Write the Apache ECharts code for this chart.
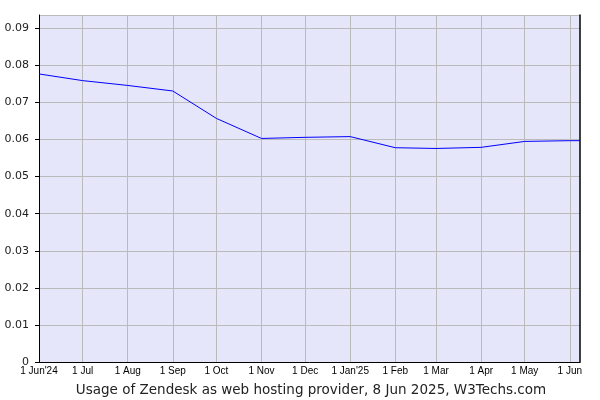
<!DOCTYPE html>
<html>
<head>
<meta charset="utf-8">
<script src="https://cdn.jsdelivr.net/npm/echarts@6/dist/echarts.min.js"></script>
<style>html,body{margin:0;padding:0;background:#fff}#c{width:600px;height:400px}</style>
</head>
<body>
<div id="c"></div>
<script>
const dates = ['2024-06-01','2024-07-01','2024-08-01','2024-09-01','2024-10-01','2024-11-01','2024-12-01','2025-01-01','2025-02-01','2025-03-01','2025-04-01','2025-05-01','2025-06-01','2025-06-08'];
const usage = [0.0777,0.0759,0.0746,0.0731,0.0657,0.0603,0.0606,0.0608,0.0578,0.0576,0.0579,0.0595,0.0597,0.0597];
const tickDates = ['2024-06-01','2024-07-01','2024-08-01','2024-09-01','2024-10-01','2024-11-01','2024-12-01','2025-01-01','2025-02-01','2025-03-01','2025-04-01','2025-05-01','2025-06-01'];
const tickLabels = ["1 Jun'24",'1 Jul','1 Aug','1 Sep','1 Oct','1 Nov','1 Dec',"1 Jan'25",'1 Feb','1 Mar','1 Apr','1 May','1 Jun'];
const titleText = 'Usage of Zendesk as web hosting provider, 8 Jun 2025, W3Techs.com';

const ts = s => { const p = s.split('-').map(Number); return Date.UTC(p[0], p[1]-1, p[2]); };
const tickTs = tickDates.map(ts);
const labelFor = v => { const i = tickTs.indexOf(v); return i >= 0 ? tickLabels[i] : ''; };

const chart = echarts.init(document.getElementById('c'), null, {renderer:'canvas'});
chart.setOption({
  animation:false,
  backgroundColor:'#ffffff',
  title:{
    text:titleText, left:306, top:378, textAlign:'center',
    textStyle:{fontFamily:'DejaVu Sans', fontSize:13.5, fontWeight:'normal', color:'#222'}
  },
  grid:{left:39, right:20, top:15, bottom:38, show:true, backgroundColor:'#e6e6fa', borderWidth:0},
  xAxis:{
    type:'value', min:ts('2024-06-01'), max:ts('2025-06-08'),
    axisLine:{show:true, lineStyle:{color:'#000', width:1}},
    axisTick:{show:false},
    splitLine:{show:false},
    axisLabel:{
      customValues: tickTs, showMinLabel:true, showMaxLabel:true, hideOverlap:false,
      margin:4, fontFamily:'Liberation Sans', fontSize:10, color:'#000',
      formatter: v => labelFor(v)
    }
  },
  yAxis:[{
    type:'value', min:0, max:0.0936, interval:0.01,
    axisLine:{show:true, lineStyle:{color:'#000', width:1}},
    axisTick:{show:true, length:4, inside:false, lineStyle:{color:'#000'}},
    splitLine:{show:true, lineStyle:{color:'#bbbbbb', width:1}},
    axisLabel:{
      showMaxLabel:false, margin:10, fontFamily:'DejaVu Sans', fontSize:11, color:'#222',
      formatter: v => { const r = Math.round(v*100)/100; return Math.abs(r - v) < 1e-9 ? (r===0 ? '0' : r.toFixed(2)) : ''; }
    }
  },{
    type:'value', min:0, max:0.0936, position:'right',
    axisLine:{show:true, lineStyle:{color:'#000', width:1.5}},
    axisTick:{show:false}, axisLabel:{show:false}, splitLine:{show:false}
  }],
  series:[{
    type:'line', yAxisIndex:0,
    data: dates.map((d,i)=>[ts(d), usage[i]]),
    showSymbol:false, symbol:'none',
    lineStyle:{color:'#0000ff', width:1},
    z:5,
    markLine:{
      silent:true, symbol:'none', label:{show:false},
      lineStyle:{color:'#bbbbbb', width:1, type:'solid'},
      data: tickTs.slice(1).map(t=>({xAxis:t}))
    }
  }]
});
</script>
</body>
</html>
